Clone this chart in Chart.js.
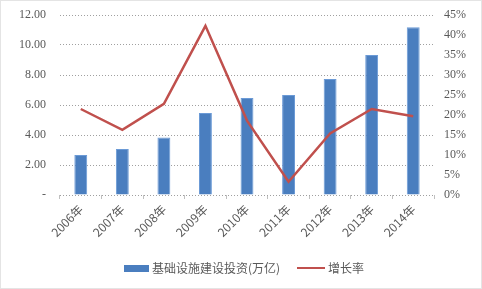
<!DOCTYPE html>
<html>
<head>
<meta charset="utf-8">
<script src="https://cdn.jsdelivr.net/npm/chart.js@4"></script>
<style>
  html, body { margin: 0; padding: 0; background: #fff; }
  #wrap { width: 482px; height: 289px; }
</style>
</head>
<body>
<div id="wrap"><canvas id="graphique" width="482" height="289"></canvas></div>
<script>
// donnees
const annees = ['2006年', '2007年', '2008年', '2009年', '2010年', '2011年', '2012年', '2013年', '2014年'];
const investissement = [2.66, 3.07, 3.83, 5.47, 6.47, 6.67, 7.73, 9.33, 11.18];
const croissance = [21.5, 16.3, 22.8, 42.3, 18.6, 3.3, 15.4, 21.5, 19.7];
const nomBarres = '基础设施建设投资(万亿)';
const nomLigne = '增长率';

const grisTexte = '#595959';
const bleu = '#4a7ebf';
const rouge = '#c0504d';
const policeChiffres = '"Liberation Serif", "Noto Sans CJK SC", serif';
const policeCjk = '"Noto Sans CJK SC", "Liberation Sans", sans-serif';

// legende et cadre dessines a la main
const legendeMaison = {
    id: 'legendeMaison',
    afterDraw(chart) {
        const ctx = chart.ctx;
        const barres = chart.data.datasets.find(d => d.type === 'bar');
        const ligne = chart.data.datasets.find(d => d.type === 'line');
        ctx.save();
        // cadre pointille autour de l'image
        ctx.strokeStyle = '#c8c8c8';
        ctx.lineWidth = 1;
        ctx.setLineDash([1, 1]);
        ctx.strokeRect(0.5, 0.5, chart.width - 1, chart.height - 1);
        ctx.setLineDash([]);

        const y = 268;
        ctx.font = '12px ' + policeCjk;
        ctx.textBaseline = 'middle';
        ctx.fillStyle = bleu;
        ctx.fillRect(124, y - 3, 25, 7);
        ctx.fillStyle = grisTexte;
        ctx.fillText(barres.label, 152, y);

        ctx.strokeStyle = rouge;
        ctx.lineWidth = 2;
        ctx.beginPath();
        ctx.moveTo(297, y);
        ctx.lineTo(325, y);
        ctx.stroke();
        ctx.fillText(ligne.label, 328, y);
        ctx.restore();
    }
};

const canvas = document.getElementById('graphique');
const ctx = canvas.getContext('2d');

new Chart(ctx, {
    data: {
        labels: annees,
        datasets: [
            {
                type: 'line',
                label: nomLigne,
                data: croissance,
                yAxisID: 'yDroite',
                borderColor: rouge,
                borderWidth: 2.5,
                pointRadius: 0,
                tension: 0,
                order: 0
            },
            {
                type: 'bar',
                label: nomBarres,
                data: investissement,
                yAxisID: 'y',
                backgroundColor: bleu,
                borderColor: '#6b9ad6',
                borderWidth: 1,
                barPercentage: 0.31,
                categoryPercentage: 1,
                order: 1
            }
        ]
    },
    options: {
        responsive: false,
        animation: false,
        layout: { padding: { top: 15, bottom: 0, left: 0, right: 0 } },
        plugins: {
            legend: { display: false },
            tooltip: { enabled: false }
        },
        scales: {
            x: {
                offset: true,
                grid: {
                    display: true,
                    drawOnChartArea: false,
                    drawTicks: true,
                    tickLength: 4,
                    color: '#c0c0c0',
                    offset: true
                },
                border: { display: false },
                ticks: {
                    color: grisTexte,
                    font: { family: policeCjk, size: 12 },
                    maxRotation: 45,
                    minRotation: 45,
                    padding: 3
                },
                afterFit(axis) { axis.height = 94; }
            },
            y: {
                position: 'left',
                min: 0,
                max: 12,
                ticks: {
                    stepSize: 2,
                    color: grisTexte,
                    padding: 14,
                    font: { family: policeChiffres, size: 12 },
                    callback: v => v === 0 ? '-' : v.toFixed(2)
                },
                grid: {
                    color: '#a0a0a0',
                    lineWidth: 1,
                    drawTicks: false
                },
                border: { display: false, dash: [1, 2] },
                afterFit(axis) {
                    axis.width = 60;
                    axis.paddingTop = 0;
                }
            },
            yDroite: {
                position: 'right',
                min: 0,
                max: 45,
                ticks: {
                    stepSize: 5,
                    color: grisTexte,
                    padding: 10,
                    font: { family: policeChiffres, size: 12 },
                    callback: v => v + '%'
                },
                grid: { drawOnChartArea: false, drawTicks: false },
                border: { display: false },
                afterFit(axis) {
                    axis.width = 48;
                    axis.paddingTop = 0;
                }
            }
        }
    },
    plugins: [legendeMaison]
});
</script>
</body>
</html>
